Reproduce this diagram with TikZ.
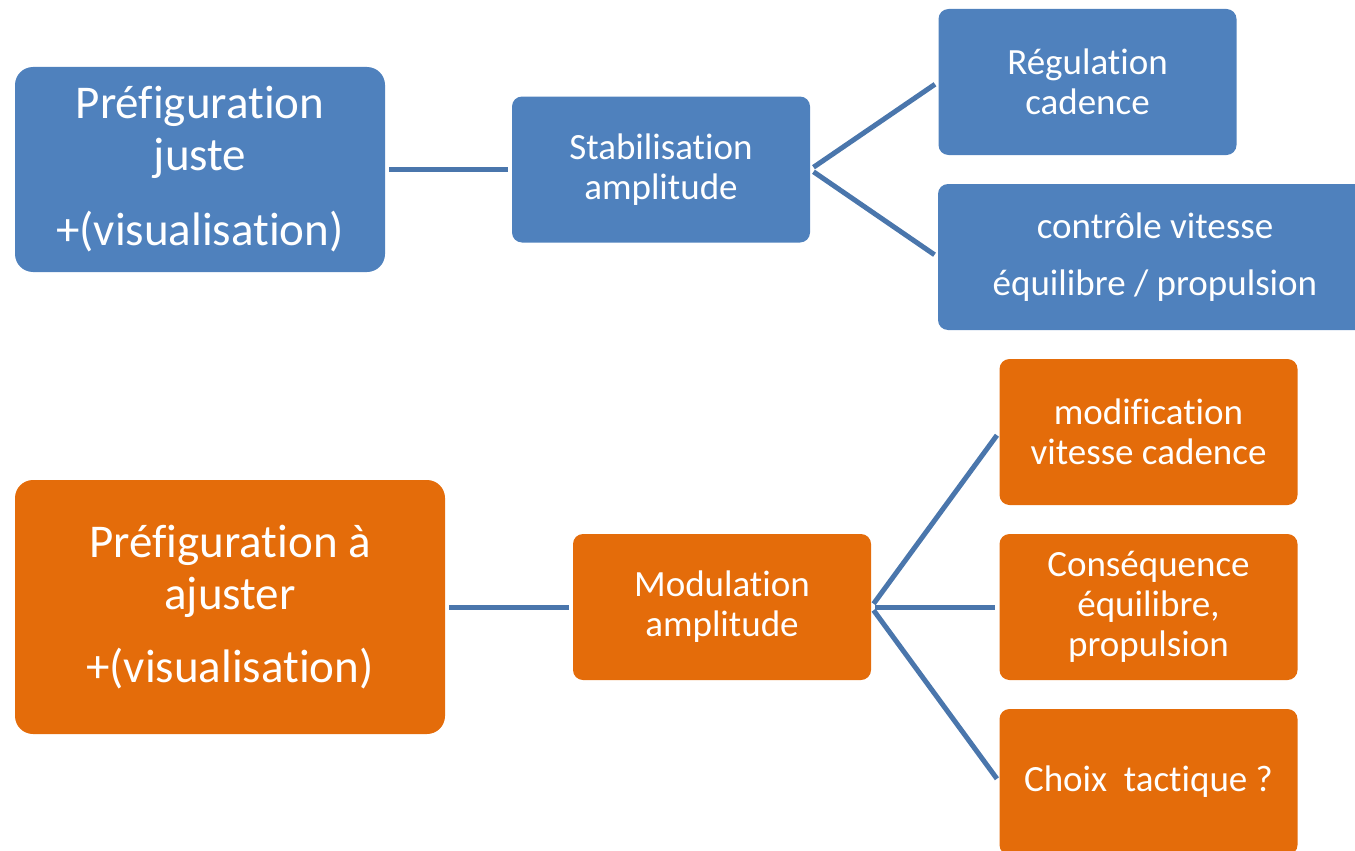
\documentclass[tikz,border=0pt]{standalone}
\usepackage{fontspec}
\setmainfont{Carlito}[Ligatures={NoCommon}]
\usetikzlibrary{positioning}
\definecolor{boxblue}{HTML}{4F81BD}
\definecolor{boxorange}{HTML}{E46C0A}
\definecolor{linkblue}{HTML}{4A76AC}
\begin{document}
\begin{tikzpicture}[x=1pt,y=-1pt,
        box/.style={
            rectangle,
            rounded corners=10pt,
            text=white,
            inner sep=0pt,
            minimum width=298pt,
            minimum height=146pt,
            align=center,
            font=\fontsize{37}{40}\selectfont},
        bigbox/.style={
            box,
            rounded corners=18pt,
            font=\fontsize{47}{52}\selectfont},
        bluefill/.style={fill=boxblue},
        orangefill/.style={fill=boxorange},
        link/.style={
            draw=linkblue,
            line width=5pt,
            shorten <=4pt,
            shorten >=4pt}
        ]
    
        \useasboundingbox (0,0) rectangle (1355,851);
        \clip (0,0) rectangle (1355,851);
    
        \node (prefjuste) [bigbox, bluefill, minimum width=370pt, minimum height=205pt] at (200,169.5) {Préfiguration\\juste\\[23pt]+(visualisation)};
        \node (stab) [box, bluefill] at (661,169.5) {Stabilisation\\amplitude};
        \node (regul) [box, bluefill] at (1087.5,82) {Régulation\\cadence};
        \node (controle) [box, bluefill, minimum width=434pt] at (1155,257) {contrôle vitesse\\[17pt]équilibre / propulsion};
        
        \node (prefajust) [bigbox, orangefill, minimum width=430pt, minimum height=254pt] at (230,607) {Préfiguration à\\ajuster\\[21pt]+(visualisation)};
        \node (modul) [box, orangefill] at (722,607) {Modulation\\amplitude};
        \node (modif) [box, orangefill] at (1148.5,432) {modification\\vitesse cadence};
        \node (conseq) [box, orangefill] at (1148.5,607) {Conséquence\\équilibre,\\propulsion};
        \node (choix) [box, orangefill] at (1148.5,782) {Choix\ \ tactique ?};
        
        \draw [link] (prefjuste.east) -- (stab.west);
        \draw [link] (stab.east) -- (regul.west);
        \draw [link] (stab.east) -- (controle.west);
        
        \draw [link] (prefajust.east) -- (modul.west);
        \draw [link] (modul.east) -- (modif.west);
        \draw [link] (modul.east) -- (conseq.west);
        \draw [link] (modul.east) -- (choix.west);
        
        \end{tikzpicture}
\end{document}
